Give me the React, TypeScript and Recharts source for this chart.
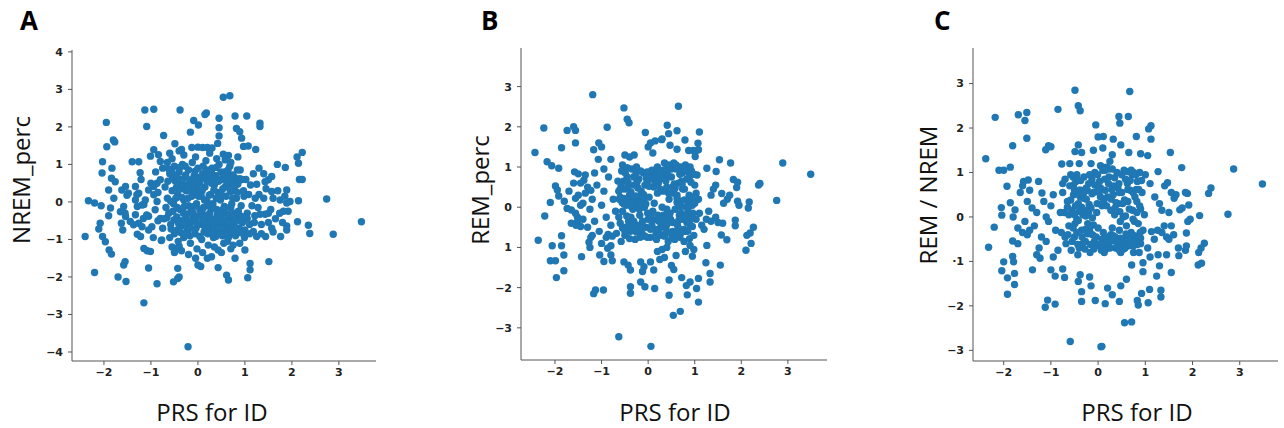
import React from "react"
import { ScatterChart, Scatter, XAxis, YAxis } from "recharts"

// shared ticks
const xTicks = [-2, -1, 0, 1, 2, 3]
const yTicksA = [-4, -3, -2, -1, 0, 1, 2, 3, 4]
const yTicksBC = [-3, -2, -1, 0, 1, 2, 3]

// panel A: PRS for ID vs NREM_perc
const nremPerc: [number, number][] = [
    [3.48, -0.53], [2.88, -0.86], [2.74, 0.08], [2.38, -0.84], [2.35, -0.62], [2.12, -0.53], [2.16, 0.6], [2.22, 0.6],
    [2.22, 1.32], [2.11, 1.2], [2.14, 1.03], [2.14, 0.03], [1.96, 0.01], [1.89, -0.03], [1.89, 0.32], [1.82, -0.25],
    [1.74, -0.3], [1.89, -0.64], [1.89, -0.75], [1.76, -0.92], [1.69, 1.0], [1.86, 0.92], [1.57, 0.68], [1.5, 0.59],
    [1.43, 0.54], [1.25, 0.47], [1.57, 0.28], [1.5, -0.3], [1.43, -0.33], [1.32, -0.33], [1.21, -0.37], [1.57, -0.7],
    [1.44, -0.92], [1.25, -0.92], [1.18, -0.79], [1.0, -0.88], [0.89, -1.1], [1.0, -1.28], [0.79, -1.5], [0.43, -1.75],
    [0.61, -1.95], [0.65, -2.08], [1.11, -1.64], [1.11, -1.81], [1.06, -2.02], [1.51, -1.59], [0.29, -1.46], [0.43, -1.28],
    [0.54, 2.79], [0.68, 2.83], [0.18, 2.37], [0.45, 2.23], [0.79, 2.29], [1.04, 2.29], [1.32, 2.1], [1.32, 2.01],
    [0.45, 1.98], [0.82, 1.96], [0.89, 1.87], [0.45, 1.76], [0.93, 1.7], [0.42, 1.56], [0.97, 1.48], [1.07, 1.49],
    [1.23, 1.4], [-0.13, 1.45], [0.0, 1.46], [0.1, 1.45], [0.2, 1.45], [0.3, 1.44], [0.54, 1.27], [0.65, 1.24], [0.58, 1.12],
    [-2.4, -0.92], [-2.33, 0.03], [-2.2, -0.03], [-2.06, -0.1], [-2.2, -1.88], [-1.95, 2.12], [-2.03, 1.07], [-2.04, 0.77],
    [-1.94, 1.47], [-1.8, 1.65], [-1.77, 1.6], [-1.83, 0.9], [-1.84, 0.63], [-1.76, 0.54], [-1.9, 0.32], [-1.79, 0.1],
    [-1.86, -0.16], [-1.9, -0.37], [-2.08, -0.57], [-2.11, -0.72], [-2.03, -0.92], [-1.97, -1.06], [-1.89, -1.28],
    [-1.84, -1.39], [-1.7, -2.0], [-1.53, -2.12], [-1.58, -1.68], [-1.55, -1.59], [-1.6, -0.75], [-1.63, -0.57],
    [-1.55, -0.3], [-1.58, -0.12], [-1.51, 0.18], [-1.4, 1.07], [-1.26, 1.07], [-1.23, 0.78], [-1.21, 0.6], [-1.13, 2.45],
    [-0.94, 2.47], [-1.09, 2.01], [-0.73, 1.77], [-0.38, 2.45], [-0.94, 1.39], [-0.84, 1.26], [-0.8, 1.08], [-1.01, 1.22],
    [-1.33, 0.05], [-1.29, -0.12], [-1.33, -0.34], [-1.15, -0.07], [-1.05, -0.38], [-1.29, -0.86], [-1.22, -0.92],
    [-1.15, -1.24], [-1.08, -1.3], [-1.01, -1.32], [-1.05, -1.76], [-1.15, -2.69], [-0.87, -2.18], [-0.78, -1.03],
    [-0.52, -2.13], [-0.43, -2.04], [-0.4, -2.0], [-0.43, -1.77], [-0.21, -3.86], [0.0, -1.68], [0.06, -1.72],
    [-0.48, -1.24], [-0.4, -1.18], [-0.09, 2.17], [0.01, 2.05], [0.15, 2.33], [-0.16, 1.86], [-0.49, 1.55], [-0.4, 1.36],
    [-0.55, 1.15],
    [-1.62, 0.32], [-1.54, 0.41], [-1.48, 0.23], [-1.65, -0.26], [-1.54, -0.39], [-1.44, -0.52], [-1.37, -0.61],
    [-1.26, -0.57], [-1.19, -0.66], [-1.16, -0.44], [-1.09, -0.35], [-1.19, -0.08], [-1.12, 0.05], [-1.05, 0.32],
    [-0.94, 0.41], [-0.87, 0.5], [-0.8, 0.59], [-0.94, 0.19], [-0.87, 0.01], [-0.91, -0.21], [-0.98, -0.66], [-1.26, 0.23],
    [-1.33, 0.41], [-1.3, 0.19], [-1.05, -0.75], [-0.77, -1.01], [-0.8, -0.44],
    [-0.7, 0.4], [-0.65, 0.1], [-0.62, -0.3], [-0.6, 0.75], [-0.58, -0.6], [-0.55, 0.3], [-0.52, -0.05], [-0.5, 0.95],
    [-0.5, -0.85], [-0.48, 0.55], [-0.45, -0.4], [-0.43, 0.2], [-0.42, -1.05], [-0.4, 0.8], [-0.38, -0.2], [-0.36, 0.45],
    [-0.35, -0.65], [-0.33, 1.0], [-0.3, 0.05], [-0.3, -0.95], [-0.28, 0.65], [-0.26, -0.45], [-0.25, 0.3], [-0.22, -0.75],
    [-0.2, 0.85], [-0.2, -0.1], [-0.18, 0.5], [-0.16, -1.1], [-0.15, -0.55], [-0.13, 0.15], [-0.12, 1.05], [-0.1, -0.3],
    [-0.08, 0.7], [-0.06, -0.85], [-0.05, 0.35], [-0.03, -0.05], [-0.02, -1.25], [0.0, 0.9], [0.02, -0.6], [0.03, 0.5],
    [0.05, -0.35], [0.07, 0.15], [0.08, -1.0], [0.1, 0.75], [0.12, -0.15], [0.13, -0.8], [0.15, 0.4], [0.17, 1.1],
    [0.18, -0.5], [0.2, 0.0], [0.22, -1.15], [0.23, 0.6], [0.25, -0.3], [0.27, 0.2], [0.28, -0.7], [0.3, 0.9],
    [0.32, -0.05], [0.33, -0.95], [0.35, 0.45], [0.37, -0.45], [0.38, 0.7], [0.4, -0.2], [0.42, -0.75], [0.43, 0.25],
    [0.45, 1.0], [0.47, -0.55], [0.48, 0.05], [0.5, 0.6], [0.52, -0.9], [0.53, 0.35], [0.55, -0.3], [0.57, 0.8],
    [0.58, -0.65], [0.6, 0.15], [0.62, 0.55], [0.63, -1.05], [0.65, -0.45], [0.67, 0.7], [0.68, 0.95], [0.7, -0.15],
    [0.72, 0.5], [0.73, -0.75], [0.75, 0.3], [0.77, -0.6], [0.78, 0.65], [0.8, -0.9], [0.82, 0.1], [0.84, -0.4],
    [0.86, 0.55], [0.88, -0.7], [0.9, 0.85], [0.92, -0.1], [0.95, -0.55], [0.97, 0.3], [1.0, -0.75], [1.02, 0.6],
    [1.05, -0.3], [1.08, 0.2], [1.1, -0.6], [1.12, 0.45], [1.15, -0.1], [1.18, 0.75], [1.2, -0.55], [1.22, 0.1],
    [-0.68, -0.15], [-0.64, 0.55], [-0.6, -0.95], [-0.56, 0.85], [-0.53, -0.25], [-0.47, 0.1], [-0.44, -0.75],
    [-0.41, 0.62], [-0.37, -0.5], [-0.34, 0.35], [-0.31, -0.3], [-0.27, 0.95], [-0.24, -0.6], [-0.21, 0.1], [-0.17, -0.9],
    [-0.14, 0.6], [-0.11, -0.45], [-0.07, 0.25], [-0.04, -0.7], [-0.01, 0.65], [0.04, -0.2], [0.09, 0.3], [0.14, -0.65],
    [0.19, 0.85], [0.24, -0.4], [0.29, 0.5], [0.34, -0.85], [0.39, 0.1], [0.44, -0.6], [0.49, 0.8], [0.54, -0.75],
    [0.59, -0.15], [0.64, 0.4], [0.69, -0.85], [0.74, 0.1], [0.79, -0.3], [0.84, 0.85], [0.89, -0.5], [0.94, 0.6],
    [0.99, -0.95],
    [1.3, 0.2], [1.35, -0.6], [1.4, 0.1], [1.45, 0.35], [1.55, -0.2], [1.6, 0.1], [1.65, -0.45], [1.7, 0.3], [1.75, 0.05],
    [1.8, -0.55], [1.85, 0.15], [1.3, 0.9], [1.4, 0.75], [1.35, -0.85], [1.5, -0.55], [1.28, -0.15], [1.92, -0.25],
    [1.6, -0.8],
    [-0.3, 1.25], [-0.05, 1.2], [0.25, 1.3], [0.4, 1.15], [-0.6, 1.3], [-0.35, 1.4], [0.7, 1.05], [0.85, 1.2],
    [-0.95, -0.95], [-0.85, -0.5], [-0.75, -0.7], [-0.72, -0.45], [-0.9, 0.8], [-0.75, 0.9], [-0.65, 1.05], [-1.0, 0.5],
    [-0.85, 0.25],
    [-0.5, -1.35], [-0.35, -1.3], [-0.2, -1.4], [-0.05, -1.5], [0.1, -1.35], [0.2, -1.5], [0.35, -1.2], [0.5, -1.35],
    [0.55, -1.1], [0.7, -1.25], [0.75, -1.15], [-0.55, -1.2],
    [-0.58, 0.02], [-0.54, 0.62], [-0.51, -0.48], [-0.46, 0.38], [-0.44, -0.15], [-0.39, 0.92], [-0.36, -0.82],
    [-0.32, 0.48], [-0.29, -0.12], [-0.26, 0.72], [-0.23, -0.32], [-0.19, 0.32], [-0.16, -0.7], [-0.12, 0.45],
    [-0.09, -0.12], [-0.06, 0.82], [-0.02, -0.42], [0.01, 0.15], [0.04, -0.92], [0.06, 0.62], [0.09, -0.28], [0.11, 0.95],
    [0.14, 0.05], [0.16, -0.38], [0.19, 0.55], [0.21, -0.85], [0.24, 0.18], [0.26, -0.55], [0.29, 0.78], [0.31, -0.18],
    [0.34, 0.32], [0.36, -0.62], [0.39, 0.92], [0.41, -0.35], [0.44, 0.55], [0.46, -0.82], [0.49, 0.22], [0.51, -0.45],
    [0.54, 0.68], [0.56, -0.12], [0.59, 0.42], [0.61, -0.78], [0.64, 0.85], [0.66, -0.32], [0.69, 0.28], [0.71, -0.62],
    [0.74, 0.72], [0.76, -0.45], [0.79, 0.42], [0.81, -0.72], [0.84, 0.25], [0.86, -0.25], [0.89, 0.62], [0.91, -0.82],
    [-0.66, -0.42], [-0.62, 0.88], [-0.57, -0.72], [-0.49, 0.72], [-0.41, -0.58], [-0.34, 0.12], [-0.27, -0.88],
    [-0.21, 0.42], [-0.14, -0.22], [-0.08, 0.52], [-0.01, -0.58], [0.05, 0.32], [0.12, -0.48], [0.18, 0.68], [0.25, -0.12],
    [0.32, 0.62], [0.38, -0.92], [0.45, 0.12], [0.52, -0.22], [0.58, 0.62], [0.65, -0.95], [0.72, -0.05], [0.78, -0.82],
    [0.85, 0.48], [0.92, -0.38], [0.98, 0.15], [1.05, -0.45], [1.1, -0.85], [0.7, -0.55], [0.55, -0.58], [0.6, -0.68],
    [0.35, -0.65], [0.2, -0.72], [0.45, -0.7], [0.62, 0.62], [0.7, 0.58],
]

// panel B: PRS for ID vs REM_perc
const remPerc: [number, number][] = [
    [-1.19, 2.8], [-2.43, 1.36], [-2.24, 1.97], [-1.74, 1.91], [-1.6, 2.0], [-1.56, 1.91], [-1.86, 1.48], [-1.56, 1.6],
    [-0.88, 1.99], [-0.52, 2.47], [-0.45, 2.19], [-0.41, 2.1], [-1.06, 1.6], [-1.17, 1.43], [-1.0, 1.5], [-1.07, 1.19],
    [-0.8, 1.19], [-2.17, 1.13], [-2.07, 1.03], [-1.92, 0.97], [-0.06, 1.86], [-1.58, 0.88], [-1.5, 0.83], [-1.38, 0.67],
    [-1.45, 0.6], [-1.3, 0.5], [-1.23, 0.42], [-1.99, 0.53], [-1.95, 0.43], [-1.92, 0.28], [-1.56, 0.22], [-2.1, 0.12],
    [-1.74, -0.03], [-1.65, -0.07], [-1.56, -0.15], [-2.22, -0.22], [-1.52, -0.24], [-1.52, -0.36], [-1.45, -0.48],
    [-2.36, -0.82], [-2.06, -0.96], [-1.86, -0.71], [-1.86, -0.96], [-1.81, -1.19], [-2.1, -1.33], [-1.99, -1.33],
    [-1.81, -1.58], [-1.97, -1.75], [-1.43, -1.23], [-1.27, -0.87], [-1.23, -0.75], [-1.04, -1.19], [-0.95, -1.35],
    [-0.8, -1.19], [-0.77, -1.33], [-1.13, -2.06], [-1.17, -2.15], [-0.96, -2.06], [-0.63, -3.22], [0.06, -3.46],
    [-0.38, -1.98], [-0.38, -2.14], [-0.52, -1.36], [-0.43, -1.44], [-0.38, -1.56], [-0.16, -1.36], [-0.09, -1.48],
    [-0.12, -1.6], [0.05, -1.36], [0.12, -1.56], [0.14, -2.02], [-0.16, -1.86], [-0.07, -1.98], [-0.8, -0.96],
    [-0.87, -1.02], [-0.77, -0.72], [-0.86, -0.68],
    [-1.6, 0.6], [-1.5, 0.3], [-1.4, 0.1], [-1.35, 0.35], [-1.25, -0.05], [-1.2, 0.2], [-1.15, -0.35], [-1.1, 0.55],
    [-1.05, -0.6], [-1.0, 0.05], [-0.95, 0.4], [-0.9, -0.25], [-0.85, 0.75], [-0.8, -0.45], [-0.75, 0.2], [-0.7, -0.1],
    [-1.3, -0.5], [-1.4, -0.3], [-1.2, -0.7], [-1.35, 0.8], [-1.15, 0.85], [-0.95, 0.95], [-1.45, 0.05], [-1.55, -0.45],
    [-1.65, -0.4], [-1.7, 0.4], [-1.8, 0.15], [-1.25, -1.0], [-1.0, -0.9], [-0.9, -0.75],
    [0.65, 2.51], [2.89, 1.1], [3.49, 0.82], [0.41, 2.04], [0.44, 1.83], [0.62, 1.9], [0.29, 1.68], [0.47, 1.54],
    [1.1, 1.87], [1.07, 1.59], [0.79, 1.67], [0.62, 1.44], [0.87, 1.41], [0.97, 1.41], [1.08, 1.43], [1.01, 1.26],
    [1.53, 1.18], [1.77, 1.1], [1.26, 0.97], [1.46, 0.89], [1.83, 0.69], [1.9, 0.49], [1.92, 0.62], [2.37, 0.55],
    [2.4, 0.59], [2.76, 0.17], [2.17, 0.13], [2.15, -0.02], [1.92, 0.15], [1.95, 0.05], [1.7, 0.2], [1.62, 0.1],
    [1.75, 0.3], [1.58, 0.34], [1.45, 0.55], [1.4, 0.45], [1.35, 0.3], [2.26, -0.5], [2.19, -0.64], [2.12, -0.7],
    [2.21, -0.9], [2.1, -1.07], [1.87, -0.32], [1.87, -0.46], [1.57, -0.69], [1.69, -0.81], [1.26, -0.95], [1.24, -1.38],
    [1.55, -1.44], [1.33, -1.65], [1.33, -1.86], [1.08, -1.77], [1.04, -2.02], [1.08, -2.36], [0.9, -1.86], [0.82, -1.95],
    [0.84, -2.18], [0.72, -1.75], [0.45, -1.81], [0.45, -2.19], [0.54, -2.69], [0.69, -2.59], [0.95, -1.22], [0.98, -1.05],
    [0.9, -0.95], [0.8, -1.1], [1.15, -0.45], [1.25, -0.3], [1.35, -0.35], [1.45, -0.25], [1.5, -0.38], [1.3, -0.1],
    [1.2, -0.55], [1.1, -0.15], [1.6, -0.4], [1.02, 1.4],
    [0.3, -1.05], [0.35, -1.25], [0.4, -1.0], [0.5, -1.45], [0.55, -1.55], [0.25, -1.3], [0.2, -1.1], [0.6, -1.2],
    [-0.5, 1.3], [-0.4, 1.25], [-0.3, 1.3], [-0.55, 1.05], [0.0, 1.5], [0.05, 1.6], [0.15, 1.65], [0.1, 1.35], [0.35, 1.1],
    [0.45, 1.05], [0.55, 1.1], [0.7, 1.0], [0.8, 1.05], [0.2, 1.0], [0.3, 1.7],
    [-0.65, 0.65], [-0.62, 0.2], [-0.6, -0.4], [-0.57, 0.9], [-0.55, -0.1], [-0.52, 0.45], [-0.5, -0.7], [-0.47, 0.05],
    [-0.45, 0.75], [-0.42, -0.35], [-0.4, 0.3], [-0.38, -0.6], [-0.35, 0.95], [-0.33, -0.05], [-0.3, 0.55], [-0.28, -0.8],
    [-0.25, 0.15], [-0.23, -0.45], [-0.2, 0.7], [-0.18, -0.2], [-0.15, 0.4], [-0.13, -0.65], [-0.1, 0.85], [-0.08, 0.0],
    [-0.05, -0.5], [-0.03, 0.6], [0.0, -0.3], [0.02, 0.25], [0.05, -0.75], [0.07, 0.8], [0.1, -0.1], [0.12, 0.5],
    [0.15, -0.55], [0.18, 0.95], [0.2, 0.35], [0.23, -0.35], [0.25, 0.7], [0.28, -0.7], [0.3, 0.0], [0.33, -0.2],
    [0.35, 0.85], [0.38, -0.5], [0.4, 0.5], [0.43, -0.85], [0.45, 0.2], [0.48, -0.3], [0.5, 0.75], [0.53, -0.6],
    [0.55, 0.35], [0.58, -0.05], [0.6, 0.95], [0.63, -0.45], [0.65, 0.6], [0.68, -0.75], [0.7, 0.15], [0.73, 0.85],
    [0.75, -0.3], [0.78, 0.45], [0.8, -0.6], [0.83, 0.7], [0.85, -0.15], [0.88, 0.3], [0.9, -0.45], [0.93, 0.9],
    [0.95, 0.05], [0.98, -0.7], [1.0, 0.55], [1.03, -0.3], [1.05, 0.8], [1.08, 0.2], [-0.68, -0.65], [-0.63, 0.4],
    [-0.58, -0.85], [-0.53, 0.65], [-0.48, -0.5], [-0.43, 0.5], [-0.37, -0.25], [-0.32, 0.2], [-0.26, 0.85], [-0.22, -0.6],
    [-0.17, 0.25], [-0.12, -0.35], [-0.07, 0.55], [-0.02, -0.75], [0.03, 0.7], [0.08, -0.45], [0.13, 0.1], [0.18, -0.8],
    [0.22, 0.6], [0.27, -0.5], [0.32, 0.4], [0.37, -0.65], [0.42, 0.8], [0.47, -0.15], [0.52, 0.5], [0.57, -0.8],
    [0.62, 0.3], [0.67, -0.2], [0.72, 0.65], [0.77, -0.85], [0.82, 0.0], [0.87, 0.85], [0.92, -0.3],
    [-0.58, 0.55], [-0.55, -0.52], [-0.52, 0.22], [-0.49, 0.85], [-0.46, -0.22], [-0.43, 0.62], [-0.4, -0.78],
    [-0.37, 0.38], [-0.34, -0.45], [-0.31, 0.75], [-0.28, 0.05], [-0.25, -0.62], [-0.22, 0.48], [-0.19, -0.05],
    [-0.16, 0.9], [-0.13, -0.48], [-0.1, 0.32], [-0.07, -0.72], [-0.04, 0.72], [-0.01, -0.15], [0.02, 0.52], [0.05, -0.55],
    [0.08, 0.92], [0.11, -0.32], [0.14, 0.65], [0.17, -0.65], [0.2, 0.82], [0.23, -0.55], [0.26, 0.45], [0.29, -0.38],
    [0.32, 0.92], [0.35, -0.72], [0.38, 0.65], [0.41, -0.42], [0.44, 0.35], [0.47, -0.62], [0.5, 0.95], [0.53, -0.38],
    [0.56, 0.58], [0.59, -0.68], [0.62, 0.12], [0.65, -0.52], [0.68, 0.82], [0.71, -0.15], [0.74, 0.45], [0.77, -0.55],
    [0.8, 0.92], [0.83, -0.38], [0.86, 0.15], [0.89, -0.78], [0.92, 0.62], [0.95, -0.48], [0.98, 0.82], [-0.63, -0.25],
    [-0.56, 0.12], [-0.47, -0.62], [-0.39, 0.12], [-0.31, -0.35], [-0.24, 0.62], [-0.17, -0.75], [-0.09, 0.12],
    [-0.02, 0.88], [0.06, -0.22], [0.13, 0.75], [0.21, -0.2], [0.29, 0.72], [0.36, -0.28], [0.44, 0.95], [0.51, -0.75],
    [0.58, 0.48], [0.66, -0.32], [0.73, 0.58], [0.81, -0.22], [0.88, 0.72], [0.96, -0.15], [1.03, 0.35], [-0.45, 0.98],
    [-0.25, 1.0], [0.6, 1.05], [0.9, 1.0], [0.4, 0.95], [-0.5, -0.6], [-0.35, -0.55], [0.7, -0.65], [0.85, -0.6],
    [-0.6, 0.45], [-0.45, 0.45],
    [-0.52, 0.08], [-0.44, 0.18], [-0.36, 0.02], [-0.27, 0.28], [-0.18, 0.12], [-0.12, 0.22], [-0.05, 0.08],
    [0.62, 0.22], [0.7, 0.02], [0.78, 0.18], [0.86, -0.02], [0.94, 0.24], [1.0, 0.1], [0.4, -0.05], [-0.6, 0.25],
]

// panel C: PRS for ID vs REM / NREM
const remNrem: [number, number][] = [
    [-0.49, 2.85], [-2.38, 1.31], [-2.18, 2.24], [-1.69, 2.3], [-1.51, 2.35], [-1.55, 2.17], [-1.51, 1.77], [-1.81, 1.6],
    [-0.85, 2.42], [-0.42, 2.5], [-0.38, 2.39], [-1.05, 1.6], [-1.11, 1.51], [-1.0, 1.58], [-0.77, 1.19], [-0.42, 1.62],
    [-0.49, 1.47], [-2.1, 1.05], [-2.0, 1.05], [-1.86, 1.12], [-1.93, 0.69], [-1.58, 0.8], [-1.48, 0.83], [-1.26, 0.8],
    [-1.19, 0.54], [-2.05, 0.21], [-2.04, 0.04], [-1.86, 0.32], [-1.76, 0.16], [-2.2, -0.23], [-2.32, -0.68],
    [-1.81, -0.54], [-2.0, -1.01], [-1.81, -0.89], [-1.79, -1.01], [-2.04, -1.21], [-1.92, -1.37], [-1.77, -1.27],
    [-1.77, -1.52], [-1.92, -1.74], [-1.39, -1.19], [-1.23, -0.93], [-1.0, -1.19], [-0.91, -1.33], [-0.75, -1.17],
    [-0.71, -1.36], [-1.07, -1.87], [-1.12, -2.03], [-0.91, -1.96], [-0.59, -2.8], [0.06, -2.92], [-0.35, -1.68],
    [-0.35, -1.9], [-0.38, -1.3], [-0.42, -1.45], [-0.18, -1.35], [-0.15, -1.55], [-0.06, -1.88], [-1.65, 0.55],
    [-1.6, 0.7], [-1.45, 0.6], [-1.5, 0.35], [-1.4, 0.2], [-1.55, -0.1], [-1.45, -0.3], [-1.35, -0.2], [-1.3, 0.1],
    [-1.7, -0.25], [-1.6, -0.35], [-1.5, -0.4], [-1.2, -0.45], [-1.25, -0.7], [-1.1, -0.55], [-1.05, -0.1], [-1.0, 0.25],
    [-0.95, 0.5], [-0.9, -0.3], [-0.85, -0.75], [-0.8, 0.1], [-0.75, 0.75], [-1.15, 0.35], [-1.1, 0.0], [-0.95, -0.9],
    [-1.3, -0.85], [-1.8, 0.0], [-1.7, -0.6], [-0.7, -0.45],
    [0.67, 2.82], [0.44, 2.26], [0.64, 2.26], [0.46, 2.11], [1.12, 2.05], [1.07, 1.98], [1.12, 1.75], [0.81, 1.81],
    [0.48, 1.62], [0.11, 1.81], [0.32, 1.75], [0.65, 1.45], [0.9, 1.42], [1.05, 1.38], [1.53, 1.45], [1.77, 1.11],
    [2.87, 1.08], [3.48, 0.74], [1.27, 1.02], [1.47, 0.77], [1.41, 0.7], [1.61, 0.42], [2.39, 0.65], [2.34, 0.53],
    [1.89, 0.53], [1.92, 0.27], [2.75, 0.06], [2.15, 0.03], [1.9, -0.1], [1.95, -0.05], [1.73, 0.16], [1.78, 0.2],
    [1.87, -0.36], [2.25, -0.59], [2.18, -0.7], [2.13, -0.8], [2.19, -1.04], [2.12, -1.08], [1.87, -0.65], [1.71, -0.87],
    [1.55, -1.25], [1.27, -0.85], [1.24, -1.33], [1.33, -1.65], [1.33, -1.8], [1.09, -1.63], [1.06, -1.93], [0.92, -1.72],
    [0.83, -1.88], [0.85, -1.98], [0.56, -2.38], [0.71, -2.36], [0.95, -1.03], [0.95, -1.23], [0.71, -1.08],
    [0.08, -2.91], [0.45, -1.9], [0.48, -1.55], [0.6, -1.4], [0.3, -1.75], [0.2, -1.6], [0.15, -1.95], [1.26, -0.3],
    [1.35, -0.35], [1.45, -0.45], [1.5, -0.5], [1.6, -0.4], [1.13, -0.33], [1.19, -0.5], [1.4, -0.2], [1.55, -0.2],
    [1.3, 0.3], [1.35, 0.15], [1.5, 0.1], [1.65, 0.5], [1.55, 0.55], [1.2, 0.45], [1.1, 0.75], [1.0, 0.95], [1.85, 0.55],
    [0.88, 1.0], [0.75, 1.0], [1.85, -0.75], [1.7, -0.7], [1.05, -0.7], [1.1, -0.9], [1.45, -0.85], [1.3, -1.1],
    [-0.05, 2.07], [0.0, 1.8], [0.1, 1.55], [-0.1, 1.5], [-0.15, 1.2], [0.3, 1.4], [0.25, 1.25], [-0.4, 1.2], [-0.35, 1.45],
    [-0.6, 1.2], [-0.45, 0.95],
    [-0.75, 0.55], [-0.72, 0.1], [-0.68, -0.6], [-0.65, 0.35], [-0.62, -0.2], [-0.6, 0.7], [-0.57, -0.75], [-0.55, 0.15],
    [-0.52, 0.5], [-0.5, -0.45], [-0.47, 0.8], [-0.45, -0.05], [-0.42, 0.3], [-0.4, -0.7], [-0.37, 0.6], [-0.35, -0.3],
    [-0.32, 0.05], [-0.3, 0.9], [-0.27, -0.55], [-0.25, 0.4], [-0.22, -0.15], [-0.2, 0.75], [-0.17, -0.8], [-0.15, 0.2],
    [-0.12, -0.4], [-0.1, 0.55], [-0.07, 1.0], [-0.05, -0.65], [-0.02, 0.3], [0.0, -0.25], [0.03, 0.8], [0.05, 0.45],
    [0.08, -0.5], [0.1, 1.05], [0.13, -0.8], [0.15, 0.6], [0.18, 0.25], [0.2, -0.45], [0.23, 0.9], [0.25, -0.7],
    [0.28, 0.4], [0.3, -0.25], [0.33, 0.7], [0.35, 0.05], [0.38, -0.55], [0.4, 1.0], [0.43, 0.3], [0.45, -0.3],
    [0.48, -0.8], [0.5, 0.55], [0.53, 0.0], [0.55, -0.5], [0.58, 0.85], [0.6, -0.2], [0.63, 0.35], [0.65, -0.65],
    [0.68, 0.6], [0.7, -0.35], [0.73, 0.15], [0.75, -0.8], [0.78, 0.45], [0.8, -0.5], [0.83, 0.8], [0.85, -0.15],
    [0.88, 0.25], [0.9, -0.6], [0.93, 0.55], [0.95, -0.3], [0.98, 0.05], [-0.78, -0.35], [-0.7, 0.85], [-0.64, -0.4],
    [-0.58, 0.95], [-0.53, -0.25], [-0.48, 0.25], [-0.43, -0.85], [-0.38, 0.45], [-0.33, -0.6], [-0.28, 0.15],
    [-0.23, 0.6], [-0.18, -0.3], [-0.13, 0.85], [-0.08, -0.55], [-0.03, 0.1], [0.02, 0.55], [0.07, -0.75], [0.12, 0.35],
    [0.17, -0.6], [0.22, 0.75], [0.27, -0.4], [0.32, 0.5], [0.37, -0.7], [0.42, 0.65], [0.47, -0.1], [0.52, 0.3],
    [0.57, -0.7], [0.62, 0.75], [0.67, -0.45], [0.72, 0.95], [0.77, -0.1], [0.82, 0.35], [0.87, -0.8],
    [-0.58, 0.38], [-0.55, -0.55], [-0.52, 0.72], [-0.49, -0.15], [-0.46, 0.52], [-0.43, -0.62], [-0.4, 0.12],
    [-0.37, 0.82], [-0.34, -0.45], [-0.31, 0.42], [-0.28, -0.72], [-0.25, 0.65], [-0.22, -0.38], [-0.19, 0.28],
    [-0.16, -0.62], [-0.13, 0.52], [-0.1, -0.18], [-0.07, 0.72], [-0.04, -0.45], [-0.01, 0.95], [0.02, -0.62], [0.05, 0.65],
    [0.08, 0.25], [0.11, -0.35], [0.14, 0.85], [0.17, -0.72], [0.2, 0.45], [0.23, 1.08], [0.26, -0.55], [0.29, 0.62],
    [0.32, -0.42], [0.35, 0.88], [0.38, 0.32], [0.41, -0.68], [0.44, 0.75], [0.47, -0.48], [0.5, 0.95], [0.53, -0.62],
    [0.56, 0.38], [0.59, -0.38], [0.62, 1.02], [0.65, -0.55], [0.68, 0.82], [0.71, -0.62], [0.74, 0.55], [0.77, -0.42],
    [0.8, 0.95], [0.83, -0.62], [0.86, 0.62], [0.89, -0.35], [0.92, 0.82], [-0.62, 0.05], [-0.53, 0.9], [-0.45, -0.35],
    [-0.36, 0.55], [-0.27, -0.28], [-0.18, 0.95], [-0.09, -0.72], [0.0, 0.62], [0.09, -0.62], [0.18, 1.12], [0.27, 0.15],
    [0.36, -0.45], [0.45, 0.55], [0.54, -0.72], [0.63, 0.62], [0.72, -0.52], [0.81, 0.62], [0.9, -0.48], [0.1, 1.12],
    [0.05, 1.15], [0.15, 1.05], [0.3, 1.08], [0.55, 1.05], [0.7, 1.05], [0.5, -0.6], [0.6, -0.6], [0.4, -0.55],
    [0.75, -0.65], [-0.4, 0.6], [-0.5, 0.6], [-0.3, 0.55], [0.55, -0.65], [0.45, -0.75],
    [-0.5, 0.05], [-0.42, -0.08], [-0.35, 0.22], [-0.26, 0.02], [-0.2, 0.1], [-0.12, -0.02], [0.46, 0.12],
    [0.58, 0.02], [0.66, 0.18], [0.74, -0.05], [0.82, 0.1], [0.9, 0.18], [-0.65, 0.22], [0.36, 0.2],
]

const BLUE = "#1f77b4"
const AXIS = "#555"
const LABEL_FONT = "'Open Sans', 'Noto Sans', sans-serif"
const TICK_FONT = "'DejaVu Sans', sans-serif"

const fmt = (v: number) => String(v).replace("-", "\u2212")

function Dot(props: any) {
    const { cx, cy } = props
    if (cx == null || cy == null) return null
    return <circle cx={cx} cy={cy} r={3.7} fill={BLUE} />
}

const tickStyle = { fontFamily: TICK_FONT, fontSize: 11, fontWeight: 700, fill: "#222" }

function Panel({
    left,
    width,
    points,
    xDomain,
    yDomain,
    yTicks,
    margin,
    yFormat = fmt,
}: {
    left: number
    width: number
    points: [number, number][]
    xDomain: [number, number]
    yDomain: [number, number]
    yTicks: number[]
    margin: { top: number; right: number; bottom: number; left: number }
    yFormat?: (v: number) => string
}) {
    const data = points.map(([x, y]) => ({ x, y }))
    return (
        <div style={{ position: "absolute", left, top: 0 }}>
            <ScatterChart width={width} height={428} margin={margin}>
                <XAxis
                    type="number"
                    dataKey="x"
                    domain={xDomain}
                    ticks={xTicks}
                    allowDataOverflow
                    height={30}
                    tickSize={4}
                    tickMargin={3}
                    tickFormatter={fmt}
                    tick={tickStyle}
                    axisLine={{ stroke: AXIS }}
                    tickLine={{ stroke: AXIS }}
                />
                <YAxis
                    type="number"
                    dataKey="y"
                    domain={yDomain}
                    ticks={yTicks}
                    allowDataOverflow
                    width={42}
                    tickSize={4}
                    tickMargin={5}
                    tickFormatter={yFormat}
                    tick={tickStyle}
                    axisLine={{ stroke: AXIS }}
                    tickLine={{ stroke: AXIS }}
                />
                <Scatter data={data} shape={Dot} isAnimationActive={false} />
            </ScatterChart>
        </div>
    )
}

export default function App() {
    const labelStyle = { fontFamily: LABEL_FONT, fontSize: 24, fill: "#111" }
    const titleStyle = { fontFamily: LABEL_FONT, fontSize: 26, fontWeight: 700, fill: "#000" }
    return (
        <div style={{ position: "absolute", left: 0, top: 0, width: 1284, height: 428, background: "#fff" }}>
            <Panel
                left={0}
                width={420}
                points={nremPerc}
                xDomain={[-2.68, 3.79]}
                yDomain={[-4.24, 4.05]}
                yTicks={yTicksA}
                margin={{ top: 50, right: 44, bottom: 37, left: 30 }}
            />
            <Panel
                left={440}
                width={400}
                points={remPerc}
                xDomain={[-2.73, 3.84]}
                yDomain={[-3.8, 3.96]}
                yTicks={yTicksBC}
                margin={{ top: 48, right: 13, bottom: 38, left: 39 }}
                yFormat={(v) => (v === -1 ? "1" : fmt(v))}
            />
            <Panel
                left={880}
                width={404}
                points={remNrem}
                xDomain={[-2.65, 3.81]}
                yDomain={[-3.24, 3.8]}
                yTicks={yTicksBC}
                margin={{ top: 48, right: 6, bottom: 37, left: 51 }}
                yFormat={(v) => (v === -1 ? "\u00b71" : fmt(v))}
            />
            <svg width={1284} height={428} style={{ position: "absolute", left: 0, top: 0, pointerEvents: "none" }}>
                <text x={20} y={30} style={titleStyle}>A</text>
                <text x={481} y={30} style={titleStyle}>B</text>
                <text x={934} y={30} style={titleStyle}>C</text>
                <text x={212} y={421} textAnchor="middle" style={labelStyle}>PRS for ID</text>
                <text x={675} y={421} textAnchor="middle" style={labelStyle}>PRS for ID</text>
                <text x={1137} y={421} textAnchor="middle" style={labelStyle}>PRS for ID</text>
                <text transform="translate(30,180) rotate(-90)" textAnchor="middle" style={labelStyle}>NREM_perc</text>
                <text transform="translate(489,190) rotate(-90)" textAnchor="middle" style={labelStyle}>REM_perc</text>
                <text transform="translate(937,195) rotate(-90)" textAnchor="middle" style={labelStyle}>REM / NREM</text>
            </svg>
        </div>
    )
}
